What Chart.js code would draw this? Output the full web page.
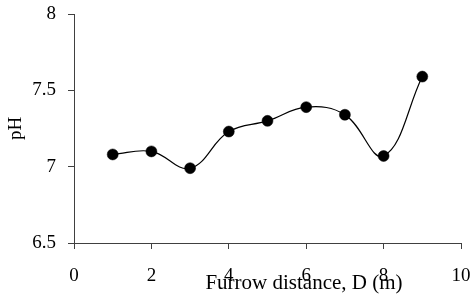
<!DOCTYPE html>
<html>
<head>
<meta charset="utf-8">
<script src="https://cdn.jsdelivr.net/npm/chart.js@4"></script>
<style>
  body { margin: 0; background: #fff; }
  canvas { display: block; }
</style>
</head>
<body>
<canvas id="myChart" width="474" height="296"></canvas>
<script>
// Furrow distance vs pH

const distance = [1, 2, 3, 4, 5, 6, 7, 8, 9];
const phValues = [7.08, 7.10, 6.99, 7.23, 7.30, 7.39, 7.34, 7.07, 7.59];

const xTitle = 'Furrow distance, D (m)';
const yTitle = 'pH';

const serif = "'Liberation Serif', 'Times New Roman', serif";
const axisColor = '#404040';

// x title sits over the tick labels, so draw it by hand
const xTitlePlugin = {
    id: 'xTitle',
    afterDraw(chart) {
        const ctx = chart.ctx;
        const area = chart.chartArea;
        ctx.save();
        ctx.font = '21px ' + serif;
        ctx.fillStyle = '#000';
        ctx.textAlign = 'center';
        ctx.textBaseline = 'alphabetic';
        ctx.fillText(xTitle, area.left + 230, area.bottom + 46);
        ctx.restore();
    }
};

const ctx = document.getElementById('myChart');
const myChart = new Chart(ctx, {
    type: 'scatter',
    data: {
        datasets: [{
            data: distance.map((d, i) => ({ x: d, y: phValues[i] })),
            showLine: true,
            borderColor: '#000',
            borderWidth: 1.2,
            tension: 0.4,
            pointRadius: 5.5,
            pointBackgroundColor: '#000',
            pointBorderColor: '#000',
            pointBorderWidth: 0.5
        }]
    },
    options: {
        responsive: false,
        animation: false,
        layout: {
            padding: { top: 14, right: 13, left: 0, bottom: 0 }
        },
        scales: {
            x: {
                type: 'linear',
                min: 0,
                max: 10,
                afterFit: (scale) => {
                    scale.height = 53;
                    scale.paddingLeft = 0;
                    scale.paddingRight = 0;
                },
                ticks: {
                    stepSize: 2,
                    color: '#000',
                    padding: 16,
                    maxRotation: 0,
                    font: { family: serif, size: 19 }
                },
                grid: {
                    drawOnChartArea: false,
                    drawTicks: true,
                    tickLength: 6,
                    color: axisColor
                },
                border: { color: axisColor, width: 1 }
            },
            y: {
                min: 6.5,
                max: 8,
                afterFit: (scale) => {
                    scale.width = 74;
                    scale.paddingTop = 0;
                    scale.paddingBottom = 0;
                },
                ticks: {
                    stepSize: 0.5,
                    color: '#000',
                    padding: 12,
                    font: { family: serif, size: 19 },
                    callback: (v) => String(Math.round(v * 10) / 10)
                },
                grid: {
                    drawOnChartArea: false,
                    drawTicks: true,
                    tickLength: 6,
                    color: axisColor
                },
                border: { color: axisColor, width: 1 },
                title: {
                    display: true,
                    text: yTitle,
                    color: '#000',
                    font: { family: serif, size: 19 },
                    padding: { top: 5, bottom: 0 }
                }
            }
        },
        plugins: {
            legend: { display: false },
            tooltip: { enabled: false }
        }
    },
    plugins: [xTitlePlugin]
});
</script>
</body>
</html>
